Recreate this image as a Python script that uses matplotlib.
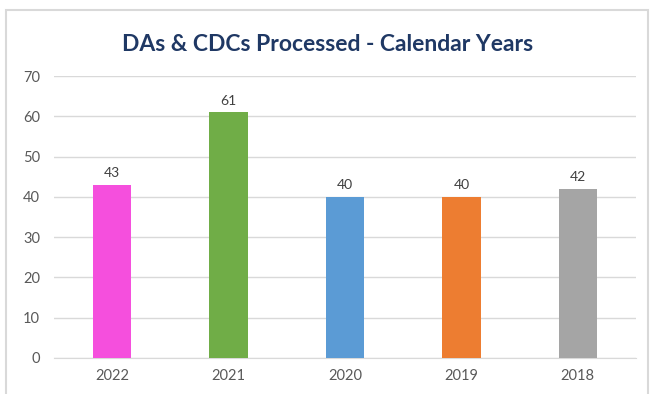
import matplotlib.pyplot as plt
from matplotlib.patches import Rectangle

# data
years = ["2022", "2021", "2020", "2019", "2018"]
processed = [43, 61, 40, 40, 42]
bar_colors = ["#F54FDD", "#70AD47", "#5B9BD5", "#ED7D31", "#A5A5A5"]

plt.rcParams['font.family'] = ['Lato', 'DejaVu Sans']

fig = plt.figure(figsize=(6.52, 3.94), dpi=100)
ax = fig.add_axes([0.0828, 0.0914, 0.8927, 0.7156])

# light frame round the whole chart, open on the bottom edge
frame = Rectangle((6 / 652, -0.05), (648 - 6) / 652, (394 - 9.5) / 394 + 0.05,
                  transform=fig.transFigure, fill=False,
                  edgecolor="#D9D9D9", linewidth=1.5)
fig.patches.append(frame)

x = range(len(years))
bars = ax.bar(x, processed, width=0.33, color=bar_colors, zorder=3)

for rect, val in zip(bars, processed):
    ax.annotate(str(val), (rect.get_x() + rect.get_width() / 2, val),
                xytext=(0, 4), textcoords="offset points",
                ha="center", va="bottom", fontsize=10, color="#404040")

ax.set_xlim(-0.5, len(years) - 0.5)
ax.set_ylim(0, 70)
ax.set_yticks(range(0, 71, 10))
ax.set_xticks(list(x))
ax.set_xticklabels(years)

ax.grid(axis="y", color="#D9D9D9", linewidth=1, zorder=0)
for side in ["top", "right", "left"]:
    ax.spines[side].set_visible(False)
ax.spines["bottom"].set_color("#D9D9D9")
ax.tick_params(axis="both", length=0, labelsize=10.5, colors="#595959")
ax.tick_params(axis="y", pad=10)
ax.tick_params(axis="x", pad=8)

fig.text(0.502, 0.888, "DAs & CDCs Processed - Calendar Years",
         ha="center", va="center", fontsize=16.5, fontweight="bold",
         color="#1F3864")

fig.savefig("out.png", dpi=100)
